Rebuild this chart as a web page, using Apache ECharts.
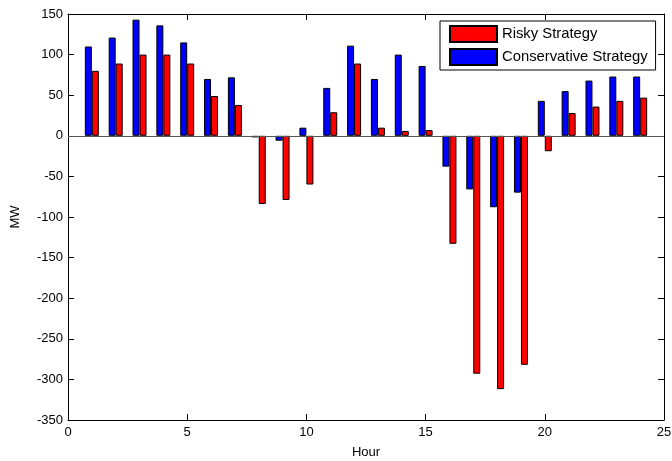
<!DOCTYPE html>
<html>
<head>
<meta charset="utf-8">
<script src="https://cdn.jsdelivr.net/npm/echarts@6/dist/echarts.min.js"></script>
<style>
  html, body { margin: 0; padding: 0; background: #fff; }
  #chart { width: 672px; height: 461px; }
</style>
</head>
<body>
<div id="chart"></div>
<script>
  const hours = [1, 2, 3, 4, 5, 6, 7, 8, 9, 10, 11, 12, 13, 14, 15, 16, 17, 18, 19, 20, 21, 22, 23, 24];
  const conservative = [110, 121, 143, 136, 115, 70, 72, -2, -6, 10, 59, 111, 70, 100, 86, -38, -66, -88, -70, 43, 55, 68, 73, 73];
  const risky = [80, 89, 100, 100, 89, 49, 38, -84, -79, -60, 29, 89, 10, 6, 7, -133, -293, -312, -282, -19, 28, 36, 43, 47];
  const xTicks = { min: 0, max: 25, interval: 5 };
  const yTicks = { min: -350, max: 150, interval: 50 };

  const FONT = "'Liberation Sans', Arial, Helvetica, sans-serif";
  const AXIS_LINE = { show: true, onZero: false, lineStyle: { color: '#000', width: 1 } };
  const TICK = { show: true, inside: true, length: 6, lineStyle: { color: '#000' } };
  const LABEL = { color: '#000', fontSize: 13, fontFamily: FONT };

  const pair = (vals) => hours.map((h, i) => [h, vals[i]]);

  const chart = echarts.init(document.getElementById('chart'), null, { renderer: 'canvas' });
  chart.setOption({
    animation: false,
    backgroundColor: '#fff',
    textStyle: { fontFamily: FONT },
    grid: { left: 68, right: 8, top: 14, bottom: 41, outerBoundsMode: 'none', containLabel: false },
    legend: {
      orient: 'vertical',
      left: 440,
      top: 21,
      data: ['Risky Strategy', 'Conservative Strategy'],
      icon: 'rect',
      itemWidth: 47,
      itemHeight: 16,
      itemGap: 5,
      padding: [4, 8, 4, 9],
      borderColor: '#000',
      borderWidth: 1,
      backgroundColor: '#fff',
      textStyle: { color: '#000', fontSize: 14.8, fontFamily: FONT },
    },
    xAxis: [
      {
        type: 'value', ...xTicks, position: 'bottom',
        name: 'Hour', nameLocation: 'middle', nameGap: 26,
        nameTextStyle: { color: '#000', fontSize: 13, fontFamily: FONT },
        axisLine: AXIS_LINE, axisTick: TICK, axisLabel: { ...LABEL, margin: 6 },
        splitLine: { show: false },
      },
      {
        type: 'value', ...xTicks, position: 'top',
        axisLine: AXIS_LINE, axisTick: TICK, axisLabel: { show: false },
        splitLine: { show: false },
      },
    ],
    yAxis: [
      {
        type: 'value', ...yTicks, position: 'left',
        name: 'MW', nameLocation: 'middle', nameGap: 46,
        nameTextStyle: { color: '#000', fontSize: 13, fontFamily: FONT },
        axisLine: AXIS_LINE, axisTick: TICK, axisLabel: { ...LABEL, margin: 5 },
        splitLine: { show: false },
      },
      {
        type: 'value', ...yTicks, position: 'right',
        axisLine: AXIS_LINE, axisTick: TICK, axisLabel: { show: false },
        splitLine: { show: false },
      },
    ],
    series: [
      {
        name: 'Conservative Strategy',
        type: 'bar',
        data: pair(conservative),
        barWidth: 7,
        barGap: '0%',
        itemStyle: { color: '#0000ff', borderColor: '#000', borderWidth: 1 },
        markLine: {
          silent: true,
          symbol: 'none',
          label: { show: false },
          lineStyle: { color: '#555', width: 1, type: 'solid' },
          data: [{ yAxis: 0 }],
        },
      },
      {
        name: 'Risky Strategy',
        type: 'bar',
        data: pair(risky),
        barWidth: 7,
        barGap: '0%',
        itemStyle: { color: '#ff0000', borderColor: '#000', borderWidth: 1 },
      },
    ],
  });
</script>
</body>
</html>
